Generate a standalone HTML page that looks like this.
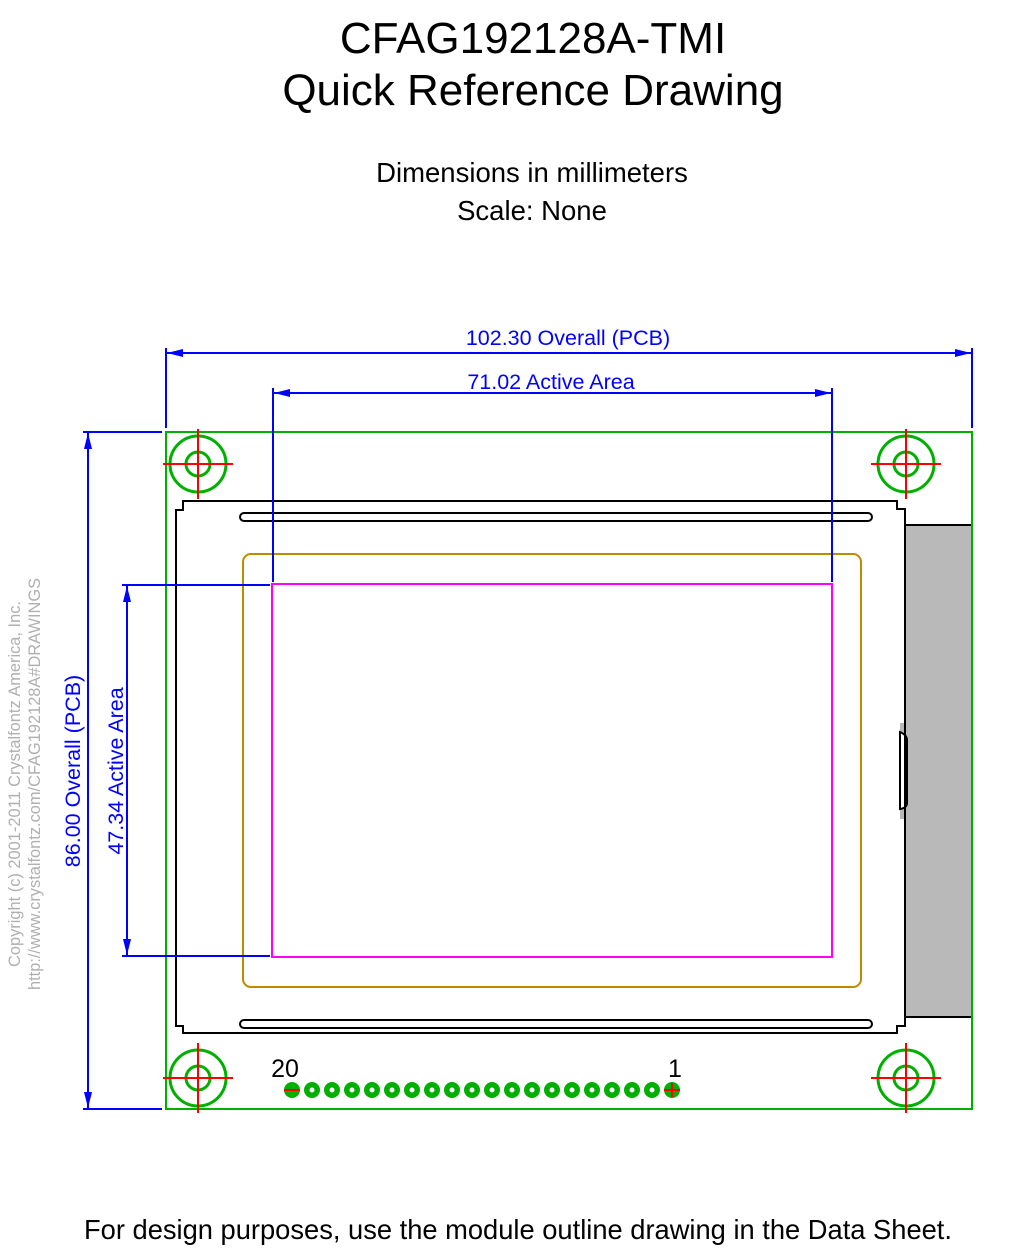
<!DOCTYPE html>
<html><head><style>
html,body{margin:0;padding:0;background:#fff;}
svg{display:block;}
</style></head><body>
<svg width="1012" height="1254" viewBox="0 0 1012 1254" xmlns="http://www.w3.org/2000/svg" font-family="Liberation Sans, sans-serif">
<text x="533" y="53" font-size="44" text-anchor="middle">CFAG192128A-TMI</text>
<text x="533" y="105" font-size="44" text-anchor="middle">Quick Reference Drawing</text>
<text x="532" y="182" font-size="27.5" text-anchor="middle">Dimensions in millimeters</text>
<text x="532" y="220" font-size="27.5" text-anchor="middle">Scale: None</text>
<text x="518" y="1239" font-size="27.3" text-anchor="middle">For design purposes, use the module outline drawing in the Data Sheet.</text>

<g fill="#b0b0b0" font-size="16.4" text-anchor="middle">
<text transform="translate(20,784) rotate(-90)">Copyright (c) 2001-2011 Crystalfontz America, Inc.</text>
<text transform="translate(40,784) rotate(-90)">http://www.crystalfontz.com/CFAG192128A#DRAWINGS</text>
</g>

<!-- gray connector area -->
<rect x="905" y="525" width="67" height="492" fill="#b9b9b9"/>
<rect x="900" y="723" width="6" height="96" fill="#b9b9b9"/>
<path d="M900,732 Q907,735 907,740 V803 Q907,808 900,809 Z" fill="#fff" stroke="#000" stroke-width="2"/>
<path d="M905,525 H972 V1017 H905" fill="none" stroke="#000" stroke-width="2"/>

<!-- bezel -->
<path d="M183,501 H897 V509 H905 V1026 H897 V1033 H183 V1026 H176 V510 H183 Z" fill="none" stroke="#000" stroke-width="2"/>
<rect x="240" y="513" width="632" height="8" rx="4" fill="none" stroke="#000" stroke-width="2"/>
<rect x="240" y="1020" width="632" height="8" rx="4" fill="none" stroke="#000" stroke-width="2"/>

<rect x="243" y="554" width="618" height="433" rx="8" fill="none" stroke="#c08a00" stroke-width="2"/>
<rect x="272" y="584" width="560" height="373" fill="none" stroke="#ff00ff" stroke-width="2"/>

<!-- PCB -->
<rect x="166" y="432" width="806" height="677" fill="none" stroke="#00b000" stroke-width="2"/>

<g fill="none" stroke="#00b000" stroke-width="3">
<circle cx="198" cy="464" r="28"/><circle cx="198" cy="464" r="12"/>
<circle cx="906" cy="464" r="28"/><circle cx="906" cy="464" r="12"/>
<circle cx="198" cy="1078" r="28"/><circle cx="198" cy="1078" r="12"/>
<circle cx="906" cy="1078" r="28"/><circle cx="906" cy="1078" r="12"/>
</g>
<g stroke="#ff0000" stroke-width="2">
<path d="M163,464H233M198,429V499"/>
<path d="M871,464H941M906,429V499"/>
<path d="M163,1078H233M198,1043V1113"/>
<path d="M871,1078H941M906,1043V1113"/>
</g>

<!-- pins -->
<g fill="#00b000">
<circle cx="292" cy="1090" r="8"/><circle cx="312" cy="1090" r="8"/><circle cx="332" cy="1090" r="8"/><circle cx="352" cy="1090" r="8"/><circle cx="372" cy="1090" r="8"/><circle cx="392" cy="1090" r="8"/><circle cx="412" cy="1090" r="8"/><circle cx="432" cy="1090" r="8"/><circle cx="452" cy="1090" r="8"/><circle cx="472" cy="1090" r="8"/><circle cx="492" cy="1090" r="8"/><circle cx="512" cy="1090" r="8"/><circle cx="532" cy="1090" r="8"/><circle cx="552" cy="1090" r="8"/><circle cx="572" cy="1090" r="8"/><circle cx="592" cy="1090" r="8"/><circle cx="612" cy="1090" r="8"/><circle cx="632" cy="1090" r="8"/><circle cx="652" cy="1090" r="8"/><circle cx="672" cy="1090" r="8"/>
</g>
<g fill="#fff">
<circle cx="312" cy="1090" r="2.5"/><circle cx="332" cy="1090" r="2.5"/><circle cx="352" cy="1090" r="2.5"/><circle cx="372" cy="1090" r="2.5"/><circle cx="392" cy="1090" r="2.5"/><circle cx="412" cy="1090" r="2.5"/><circle cx="432" cy="1090" r="2.5"/><circle cx="452" cy="1090" r="2.5"/><circle cx="472" cy="1090" r="2.5"/><circle cx="492" cy="1090" r="2.5"/><circle cx="512" cy="1090" r="2.5"/><circle cx="532" cy="1090" r="2.5"/><circle cx="552" cy="1090" r="2.5"/><circle cx="572" cy="1090" r="2.5"/><circle cx="592" cy="1090" r="2.5"/><circle cx="612" cy="1090" r="2.5"/><circle cx="632" cy="1090" r="2.5"/><circle cx="652" cy="1090" r="2.5"/>
</g>
<path d="M284,1090H300M664,1090H680M672,1083V1097" stroke="#ff0000" stroke-width="2"/>
<text x="285" y="1077" font-size="25" text-anchor="middle">20</text>
<text x="675" y="1077" font-size="25" text-anchor="middle">1</text>

<!-- dimensions -->
<g stroke="#0000ff" stroke-width="2" fill="none">
<path d="M166,348V428M972,348V428M166,353H972"/>
<path d="M273,388V582M832,388V582M273,393H832"/>
<path d="M83,432H162M83,1109H162M88,432V1109"/>
<path d="M122,585H270M122,956H270M127,585V956"/>
</g>
<g fill="#0000ff">
<path d="M167,353L183,349V357Z"/><path d="M971,353L955,349V357Z"/>
<path d="M274,393L290,389V397Z"/><path d="M831,393L815,389V397Z"/>
<path d="M88,433L84,449H92Z"/><path d="M88,1108L84,1092H92Z"/>
<path d="M127,586L123,602H131Z"/><path d="M127,955L123,939H131Z"/>
</g>
<g fill="#0000ff" font-size="21.5" text-anchor="middle">
<text x="568" y="345">102.30 Overall (PCB)</text>
<text x="551" y="389">71.02 Active Area</text>
<text transform="translate(80,771) rotate(-90)">86.00 Overall (PCB)</text>
<text transform="translate(123,771) rotate(-90)">47.34 Active Area</text>
</g>
</svg>
</body></html>
